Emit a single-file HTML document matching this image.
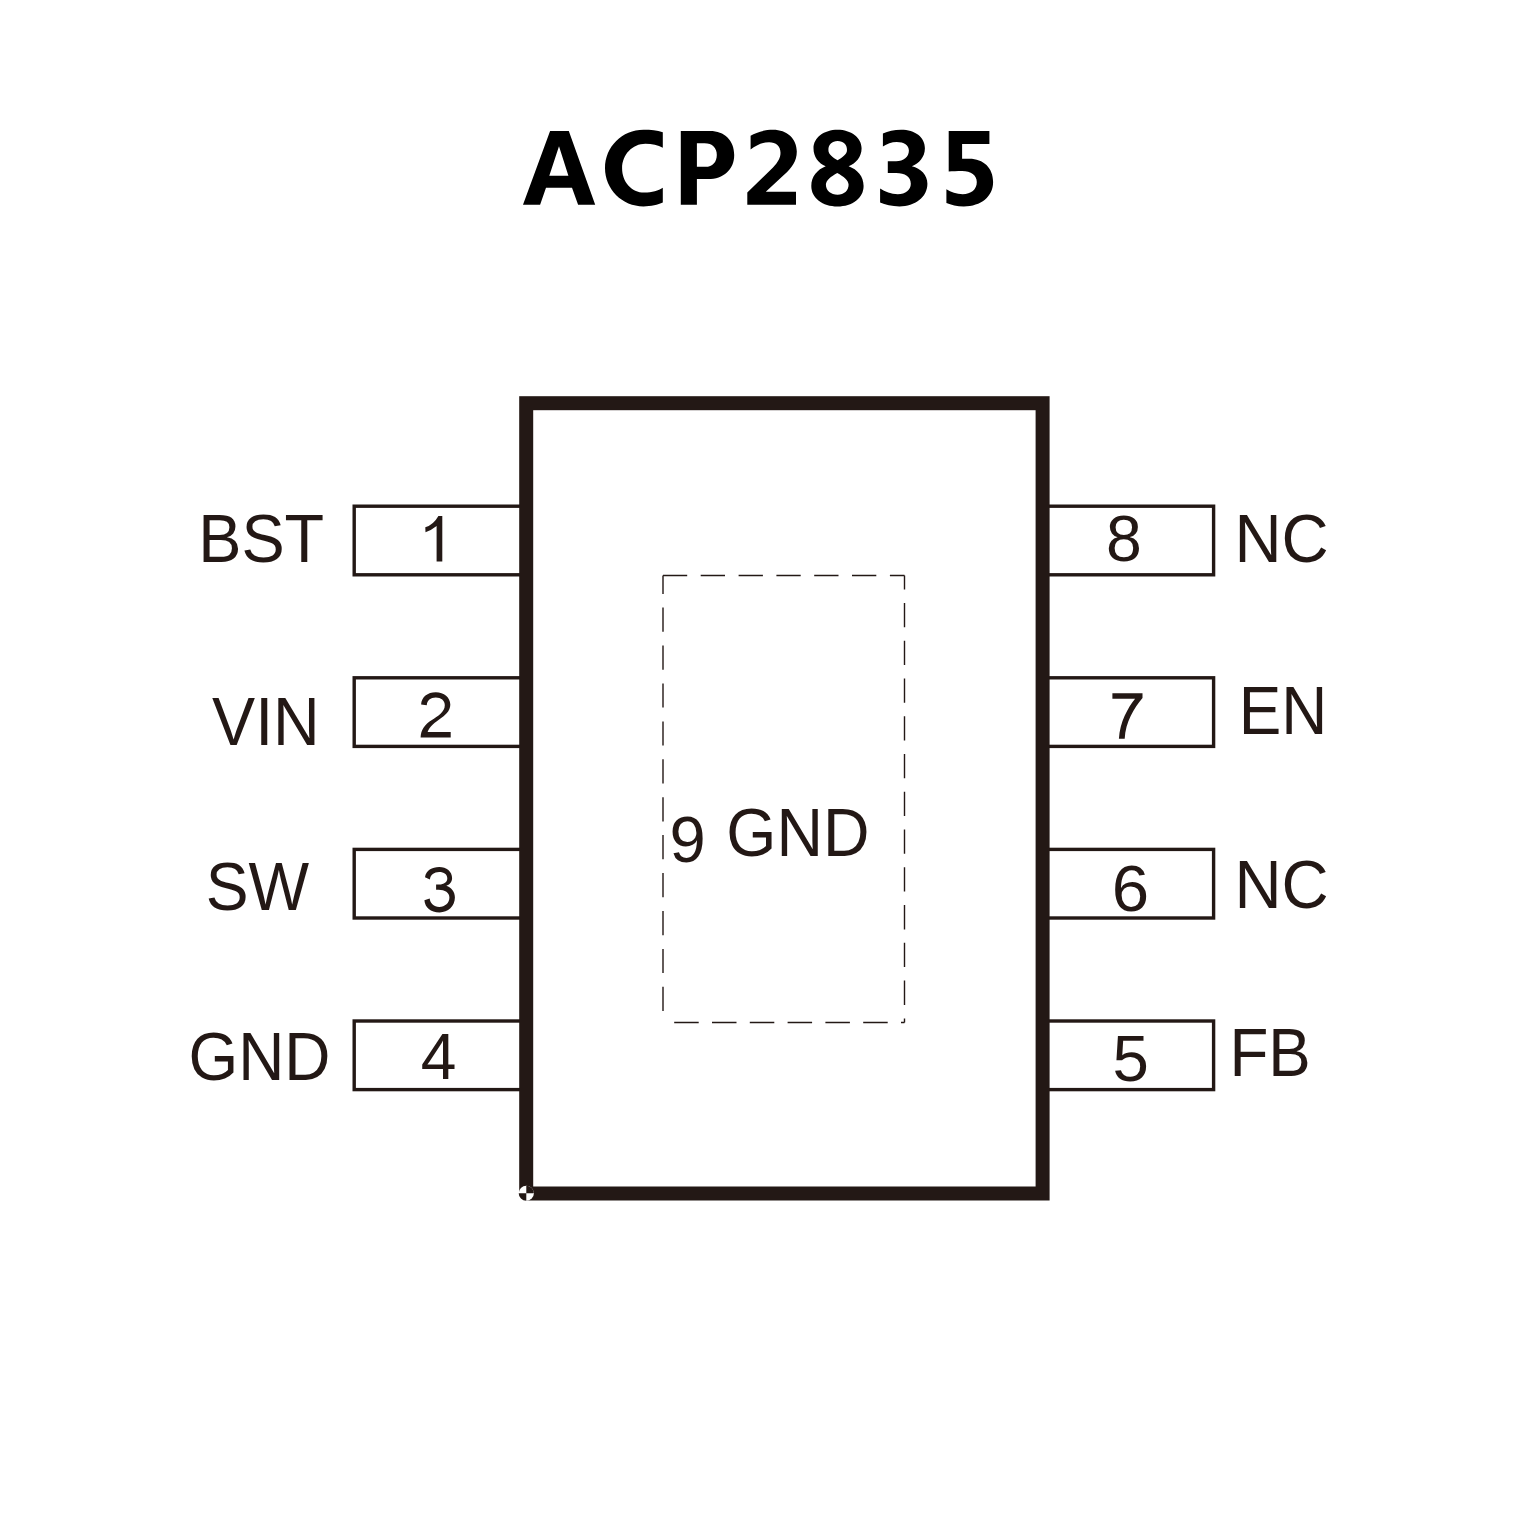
<!DOCTYPE html>
<html><head><meta charset="utf-8"><title>ACP2835</title>
<style>
html,body{margin:0;padding:0;background:#fff;width:1535px;height:1535px;overflow:hidden}
svg{display:block;font-family:"Liberation Sans",sans-serif}
</style></head>
<body>
<svg width="1535" height="1535" viewBox="0 0 1535 1535">
<rect width="1535" height="1535" fill="#fff"/>
<rect x="354.2" y="506.2" width="175" height="68.6" fill="none" stroke="#231815" stroke-width="3.4"/>
<rect x="1040" y="506.2" width="173.6" height="68.6" fill="none" stroke="#231815" stroke-width="3.4"/>
<rect x="354.2" y="677.8" width="175" height="68.6" fill="none" stroke="#231815" stroke-width="3.4"/>
<rect x="1040" y="677.8" width="173.6" height="68.6" fill="none" stroke="#231815" stroke-width="3.4"/>
<rect x="354.2" y="849.4" width="175" height="68.6" fill="none" stroke="#231815" stroke-width="3.4"/>
<rect x="1040" y="849.4" width="173.6" height="68.6" fill="none" stroke="#231815" stroke-width="3.4"/>
<rect x="354.2" y="1021.0" width="175" height="68.6" fill="none" stroke="#231815" stroke-width="3.4"/>
<rect x="1040" y="1021.0" width="173.6" height="68.6" fill="none" stroke="#231815" stroke-width="3.4"/>
<rect x="526.2" y="403.2" width="516.4" height="790.3" fill="#fff" stroke="#231815" stroke-width="14"/>
<path d="M663.0 575.5H687.2M700.7 575.5H725.0M738.6 575.5H762.9M776.4 575.5H800.7M814.2 575.5H838.5M852.0 575.5H876.3M889.9 575.5H904.5M904.5 575.5V589.4M904.5 602.9V627.2M904.5 640.7V665.0M904.5 678.4V702.7M904.5 716.2V740.5M904.5 754.0V778.3M904.5 791.8V816.0M904.5 829.5V853.8M904.5 867.3V891.6M904.5 905.1V929.4M904.5 942.8V967.1M904.5 980.6V1004.9M904.5 1018.4V1022.5M674.2 1022.5H698.7M712.0 1022.5H736.5M749.8 1022.5H774.3M787.6 1022.5H812.1M825.4 1022.5H849.9M863.2 1022.5H887.7M901.0 1022.5H904.5M663.0 575.5V593.9M663.0 607.6V631.8M663.0 645.5V669.7M663.0 683.4V707.6M663.0 721.4V745.6M663.0 759.3V783.5M663.0 797.2V821.4M663.0 835.1V859.3M663.0 873.0V897.2M663.0 911.0V935.2M663.0 948.9V973.1M663.0 986.8V1011.0" fill="none" stroke="#231815" stroke-width="1.4"/>
<path d="M442.3 516 L442.3 561.5 L436.6 561.5 L436.6 526.1 Q431 530.6 425.5 532.3 L425.3 527.3 Q433.5 524.8 438.4 516 Z" fill="#231815"/>
<path d="M1112.4 693.2H1142.5V697.9C1134 708 1125.5 722 1124.7 738.8H1118.9C1119.8 722 1128 707.5 1135.1 698.7H1112.4Z" fill="#231815"/>
<path d="M421.1 704.5C421.5 697 427.5 692.2 435.8 692.2C444 692.2 450.3 697.5 450.3 704.5C450.3 709.5 447.5 713.5 441.5 717.8C435 722.5 429.5 726.5 427.6 732.1H450.7V737.6H420.6C420.8 729.5 425 724.5 431.5 720.3C438 716 444.8 712 444.8 705.3C444.8 700.5 441 697.5 435.8 697.5C430.5 697.5 427 700.5 426.8 705.3Z" fill="#231815"/>
<path d="M425 877.2C426 870.5 432 867 439.2 867C446.5 867 452.1 871.5 452.1 878C452.1 882 449.5 884.8 446.3 885.8C451.5 887.5 454.9 892 454.9 897.5C454.9 906 448 912.4 439.6 912.4C430.5 912.4 425 907.5 424.4 900.3L429.7 898.5C430.2 903.5 434 906.9 439.2 906.9C445 906.9 449.4 903 449.4 897.5C449.4 892.5 445 889.7 438.5 889.7H436.1V884.4H439.2C444 884.4 447.3 882 447.3 878.4C447.3 874.5 444 872.1 439.2 872.1C434 872.1 430.5 875 429.9 879.5Z" fill="#231815"/>
<rect x="516" y="1193.25" width="10.299999999999955" height="9.75" fill="#fff"/>
<circle cx="526.3" cy="1193.25" r="7.6" fill="#fff"/>
<path d="M526.3 1193.25 V1185.65 A7.6 7.6 0 0 1 533.9 1193.25 Z M526.3 1193.25 V1200.85 A7.6 7.6 0 0 1 518.6999999999999 1193.25 Z" fill="#231815"/>
<path d="M523 204.7L550.1 131.1H568.8L595.2 204.7H578.1L572 187.8H546L540.1 204.7ZM559 146.3L549.3 175.7H568.4Z" fill="#000" fill-rule="evenodd"/>
<path d="M662.8 132.2C657 130.3 651 129.7 643.5 129.7C622.2 129.7 605 146.8 605 168C605 189.2 622.2 206.4 643.5 206.4C651 206.4 658 204.7 662.8 202.5V187.8C658.5 190.6 652 192.6 644.3 192.6C631.4 192.6 622.1 181.7 622.1 168.2C622.1 154.7 632.5 143.8 645.4 143.8C652 143.8 658 145.4 662.8 147.7Z" fill="#000" fill-rule="evenodd"/>
<path d="M680.8 204.7V131.1H710C724.5 131.1 734.2 140.5 734.2 154.9C734.2 169.5 723.5 179 708 179H696.9V204.7ZM696.9 143.3V166.8H705.5C712.5 166.8 716.8 162 716.8 154.9C716.8 148 712.5 143.3 704.5 143.3Z" fill="#000" fill-rule="evenodd"/>
<path d="M750.6 135.8C756 132.5 764 129.7 773 129.7C787 129.7 796.8 138.5 796.8 151.6C796.8 161 792 168 784.1 174.8L765.8 191.7H796V204.7H747.3V192.5L773 167.6C778 162 780.5 158 780.5 152.7C780.5 146 776 142.2 769.1 142.2C762 142.2 756 145.5 750.6 149.6Z" fill="#000" fill-rule="evenodd"/>
<path d="M837.6 129.7C851 129.7 861.6 137.5 861.6 148.3C861.6 157 856 163.5 848.6 166.3C857.5 169.5 863.6 176.5 863.6 185.9C863.6 198 852.5 206.4 837.6 206.4C822.5 206.4 811.3 198 811.3 185.9C811.3 176.5 817.5 169.5 825.7 166.3C818.5 163.5 813.5 157 813.5 148.3C813.5 137.5 824 129.7 837.6 129.7ZM837.6 141.1C832 141.1 828.4 145 828.4 149.9C828.4 154.5 833 157.5 837.6 160.2C842 157.5 847 154.5 847 149.9C847 145 843.5 141.1 837.6 141.1ZM837.3 172.9C831 176.5 825.9 180 825.9 184.8C825.9 190.5 831 194.8 837.6 194.8C844 194.8 848.6 190.5 848.6 184.8C848.6 180 843.5 176.5 837.3 172.9Z" fill="#000" fill-rule="evenodd"/>
<path d="M882.9 133.6C888 131 894 129.7 901.1 129.7C915 129.7 924.9 137 924.9 148.2C924.9 157 919 163.5 911.9 166.2C921 168.5 927.4 175 927.4 183.7C927.4 197 915 206.4 899.5 206.4C892 206.4 885 204.8 880.1 202.5V188.6C885 192 891 194.2 897.8 194.2C905.5 194.2 910.8 190 910.8 183.7C910.8 177 905 173.1 896.1 173.1H887.8V161.2H896.1C903.5 161.2 908.9 157 908.9 150.5C908.9 145 904 141.9 896.7 141.9C891.5 141.9 887 143.8 882.9 146.6Z" fill="#000" fill-rule="evenodd"/>
<path d="M948.7 131.1H989.4V144.1H962.1V158.8H969.3C983.5 158.8 993.1 168 993.1 182C993.1 196.5 981 206.4 963.8 206.4C957 206.4 951 205 946.4 203V189.2C951 192 956.5 194.2 962.7 194.2C971 194.2 976.8 189.5 976.8 182C976.8 175 971 170.9 962.1 170.9C957 170.9 952.5 171.1 948.7 171.5Z" fill="#000" fill-rule="evenodd"/>
<text transform="translate(198.19,561.86) scale(0.9528,1)" font-size="68.00" font-weight="normal" fill="#231815">BST</text>
<text transform="translate(212.02,744.74) scale(0.9506,1)" font-size="68.00" font-weight="normal" fill="#231815">VIN</text>
<text transform="translate(205.78,909.91) scale(0.9443,1)" font-size="68.00" font-weight="normal" fill="#231815">SW</text>
<text transform="translate(188.48,1079.96) scale(0.9402,1)" font-size="68.00" font-weight="normal" fill="#231815">GND</text>
<text transform="translate(1234.45,561.86) scale(0.9595,1)" font-size="68.00" font-weight="normal" fill="#231815">NC</text>
<text transform="translate(1238.67,733.94) scale(0.9383,1)" font-size="68.00" font-weight="normal" fill="#231815">EN</text>
<text transform="translate(1234.45,908.46) scale(0.9595,1)" font-size="68.00" font-weight="normal" fill="#231815">NC</text>
<text transform="translate(1229.38,1075.84) scale(0.9366,1)" font-size="68.00" font-weight="normal" fill="#231815">FB</text>
<text transform="translate(726.26,855.66) scale(0.9478,1)" font-size="68.00" font-weight="normal" fill="#231815">GND</text>
<text transform="translate(420.83,1079.08) scale(0.9786,1)" font-size="65.50" font-weight="normal" fill="#231815">4</text>
<text transform="translate(1105.90,561.25) scale(0.9826,1)" font-size="65.50" font-weight="normal" fill="#231815">8</text>
<text transform="translate(1111.79,910.75) scale(1.0257,1)" font-size="65.50" font-weight="normal" fill="#231815">6</text>
<text transform="translate(1112.58,1080.61) scale(0.9982,1)" font-size="65.50" font-weight="normal" fill="#231815">5</text>
<text transform="translate(669.55,861.60) scale(0.9949,1)" font-size="65.50" font-weight="normal" fill="#231815">9</text>
</svg>
</body></html>
